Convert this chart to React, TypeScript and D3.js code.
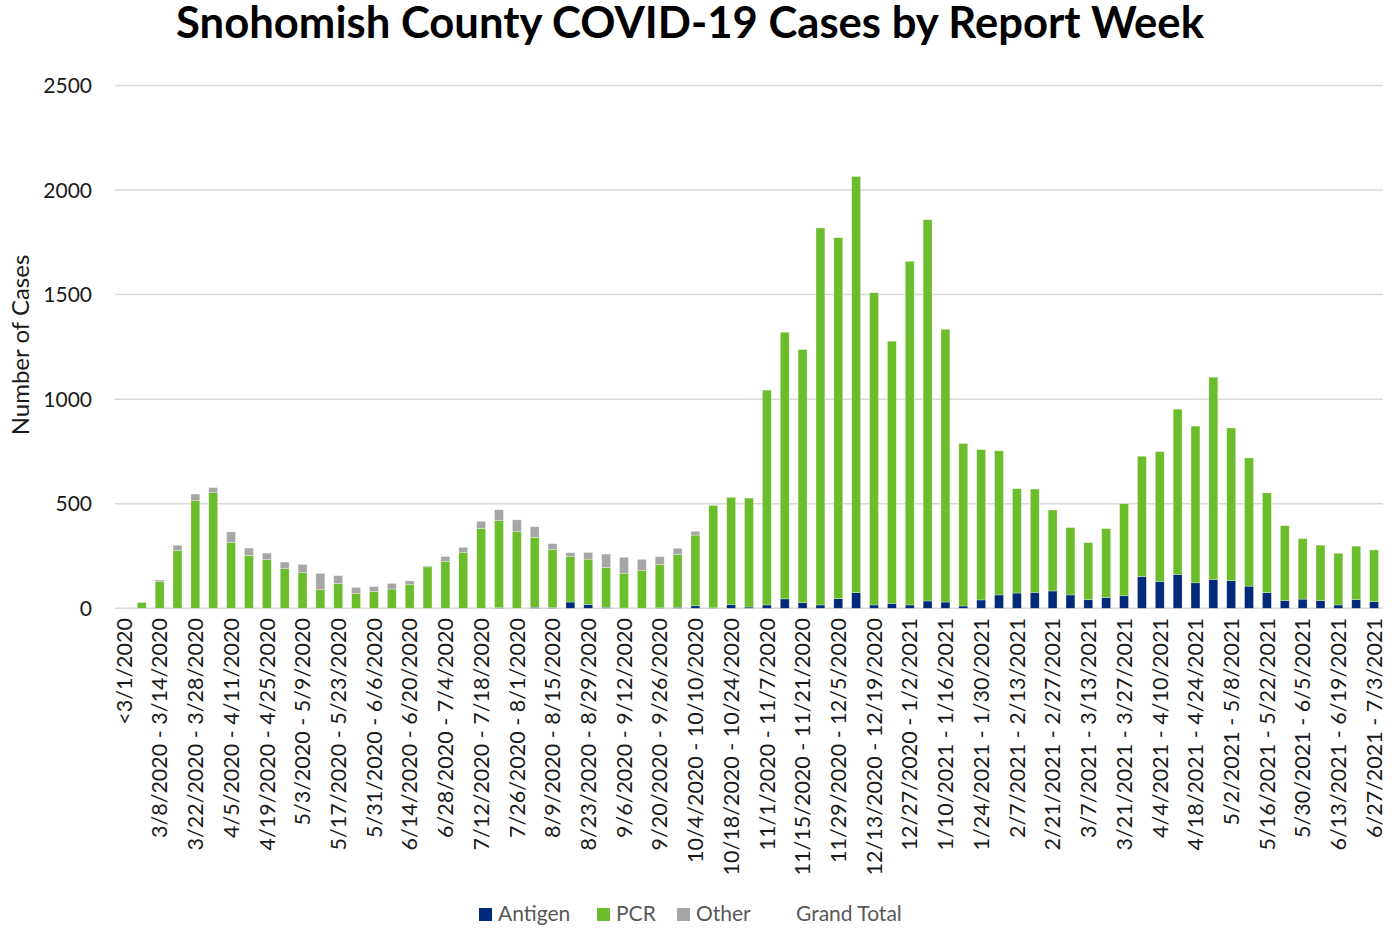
import React from "react";
import * as d3 from "d3";

const categories: string[] = [
  "<3/1/2020",
  "3/1/2020 - 3/7/2020", "3/8/2020 - 3/14/2020", "3/15/2020 - 3/21/2020", "3/22/2020 - 3/28/2020",
  "3/29/2020 - 4/4/2020", "4/5/2020 - 4/11/2020", "4/12/2020 - 4/18/2020", "4/19/2020 - 4/25/2020",
  "4/26/2020 - 5/2/2020", "5/3/2020 - 5/9/2020", "5/10/2020 - 5/16/2020", "5/17/2020 - 5/23/2020",
  "5/24/2020 - 5/30/2020", "5/31/2020 - 6/6/2020", "6/7/2020 - 6/13/2020", "6/14/2020 - 6/20/2020",
  "6/21/2020 - 6/27/2020", "6/28/2020 - 7/4/2020", "7/5/2020 - 7/11/2020", "7/12/2020 - 7/18/2020",
  "7/19/2020 - 7/25/2020", "7/26/2020 - 8/1/2020", "8/2/2020 - 8/8/2020", "8/9/2020 - 8/15/2020",
  "8/16/2020 - 8/22/2020", "8/23/2020 - 8/29/2020", "8/30/2020 - 9/5/2020", "9/6/2020 - 9/12/2020",
  "9/13/2020 - 9/19/2020", "9/20/2020 - 9/26/2020", "9/27/2020 - 10/3/2020", "10/4/2020 - 10/10/2020",
  "10/11/2020 - 10/17/2020", "10/18/2020 - 10/24/2020", "10/25/2020 - 10/31/2020", "11/1/2020 - 11/7/2020",
  "11/8/2020 - 11/14/2020", "11/15/2020 - 11/21/2020", "11/22/2020 - 11/28/2020", "11/29/2020 - 12/5/2020",
  "12/6/2020 - 12/12/2020", "12/13/2020 - 12/19/2020", "12/20/2020 - 12/26/2020", "12/27/2020 - 1/2/2021",
  "1/3/2021 - 1/9/2021", "1/10/2021 - 1/16/2021", "1/17/2021 - 1/23/2021", "1/24/2021 - 1/30/2021",
  "1/31/2021 - 2/6/2021", "2/7/2021 - 2/13/2021", "2/14/2021 - 2/20/2021", "2/21/2021 - 2/27/2021",
  "2/28/2021 - 3/6/2021", "3/7/2021 - 3/13/2021", "3/14/2021 - 3/20/2021", "3/21/2021 - 3/27/2021",
  "3/28/2021 - 4/3/2021", "4/4/2021 - 4/10/2021", "4/11/2021 - 4/17/2021", "4/18/2021 - 4/24/2021",
  "4/25/2021 - 5/1/2021", "5/2/2021 - 5/8/2021", "5/9/2021 - 5/15/2021", "5/16/2021 - 5/22/2021",
  "5/23/2021 - 5/29/2021", "5/30/2021 - 6/5/2021", "6/6/2021 - 6/12/2021", "6/13/2021 - 6/19/2021",
  "6/20/2021 - 6/26/2021", "6/27/2021 - 7/3/2021",
];

const antigen: number[] = [
  0, 0, 0, 0, 0, 0, 0, 0, 0, 0,
  0, 0, 0, 0, 0, 0, 0, 0, 0, 0,
  0, 3, 0, 5, 4, 30, 18, 5, 1, 0,
  2, 5, 12, 2, 17, 6, 16, 45, 27, 16,
  46, 75, 16, 22, 16, 35, 30, 11, 40, 64,
  73, 76, 83, 64, 41, 51, 60, 152, 127, 162,
  122, 138, 132, 106, 75, 37, 44, 37, 16, 41,
  32,
];

const pcr: number[] = [
  1, 28, 127, 277, 516, 553, 315, 253, 233, 190,
  170, 89, 118, 70, 81, 92, 113, 198, 224, 266,
  382, 416, 366, 334, 278, 218, 217, 190, 167, 181,
  208, 252, 338, 490, 514, 521, 1027, 1275, 1210, 1802,
  1726, 1990, 1493, 1255, 1643, 1823, 1304, 777, 719, 689,
  499, 494, 387, 322, 273, 330, 440, 575, 622, 790,
  749, 967, 730, 613, 477, 358, 289, 265, 247, 256,
  247,
];

const other: number[] = [
  0, 1, 8, 24, 30, 24, 50, 35, 31, 31,
  40, 78, 38, 30, 23, 27, 18, 4, 24, 25,
  34, 52, 57, 51, 27, 18, 32, 64, 76, 53,
  37, 30, 18, 3, 1, 0, 0, 0, 0, 0,
  0, 0, 0, 0, 0, 0, 0, 0, 0, 0,
  0, 0, 0, 0, 0, 0, 0, 0, 0, 0,
  0, 0, 0, 0, 0, 0, 0, 0, 0, 0,
  0,
];

const yTicks: number[] = [0, 500, 1000, 1500, 2000, 2500];
const seriesKeys = ["Antigen", "PCR", "Other"];
const seriesColors: Record<string, string> = {
  Antigen: "#012A7A",
  PCR: "#6BBD2B",
  Other: "#A6A6A6",
};

const FONT = "Lato, 'Open Sans', sans-serif";

export default function App() {
  const W = 1398;
  const H = 928;
  const left = 115;
  const right = 1383;
  const top = 85.4;
  const bottom = 608.3;

  const rows = categories.map((c, i) => ({
    cat: c,
    Antigen: antigen[i],
    PCR: pcr[i],
    Other: other[i],
  }));

  const x = d3
    .scaleBand<string>()
    .domain(categories)
    .range([left, right])
    .paddingInner(0.5)
    .paddingOuter(0.25);
  const y = d3.scaleLinear().domain([0, 2500]).range([bottom, top]);

  const stacked = d3.stack<any>().keys(seriesKeys)(rows);
  const bw = x.bandwidth();

  const legendItems = [
    { key: "Antigen", sx: 479, tx: 498 },
    { key: "PCR", sx: 597, tx: 616 },
    { key: "Other", sx: 677, tx: 696 },
  ];

  return (
    <svg
      width={W}
      height={H}
      style={{ position: "absolute", left: 0, top: 0, background: "#fff" }}
      fontFamily={FONT}
    >
      <rect x={0} y={0} width={W} height={H} fill="#fff" />
      <text
        x={690}
        y={37.5}
        textAnchor="middle"
        fontSize={44}
        fontWeight={700}
        fill="#000"
        textLength={1028}
        lengthAdjust="spacingAndGlyphs"
      >
        Snohomish County COVID-19 Cases by Report Week
      </text>

      {yTicks.map((t) => (
        <g key={t}>
          <line x1={left} x2={right} y1={y(t)} y2={y(t)} stroke="#D9D9D9" strokeWidth={1.5} />
          <text x={92} y={y(t)} dy="0.36em" textAnchor="end" fontSize={21} fill="#1a1a1a">
            {t}
          </text>
        </g>
      ))}

      <text
        transform={`translate(21,345) rotate(-90)`}
        textAnchor="middle"
        dy="0.35em"
        fontSize={24}
        fill="#1a1a1a"
      >
        Number of Cases
      </text>

      {stacked.map((s) => (
        <g key={s.key} fill={seriesColors[s.key]}>
          {s.map((d, i) => {
            const h = y(d[0]) - y(d[1]);
            if (h <= 0) return null;
            return (
              <rect
                key={i}
                x={x(categories[i])!}
                y={y(d[1])}
                width={bw}
                height={h}
                stroke="#ffffff"
                strokeOpacity={0.5}
                strokeWidth={0.6}
              />
            );
          })}
        </g>
      ))}

      {categories.map((c, i) =>
        i % 2 === 0 ? (
          <text
            key={c}
            transform={`translate(${x(c)! + bw / 2},618) rotate(-90)`}
            textAnchor="end"
            dy="0.36em"
            fontSize={21.5}
            fill="#1a1a1a"
          >
            {c}
          </text>
        ) : null
      )}

      {legendItems.map((l) => (
        <g key={l.key}>
          <rect x={l.sx} y={908} width={13} height={13} fill={seriesColors[l.key]} />
          <text x={l.tx} y={921} fontSize={21} fill="#595959">
            {l.key}
          </text>
        </g>
      ))}
      <text x={796} y={921} fontSize={21} fill="#595959">
        Grand Total
      </text>
    </svg>
  );
}
